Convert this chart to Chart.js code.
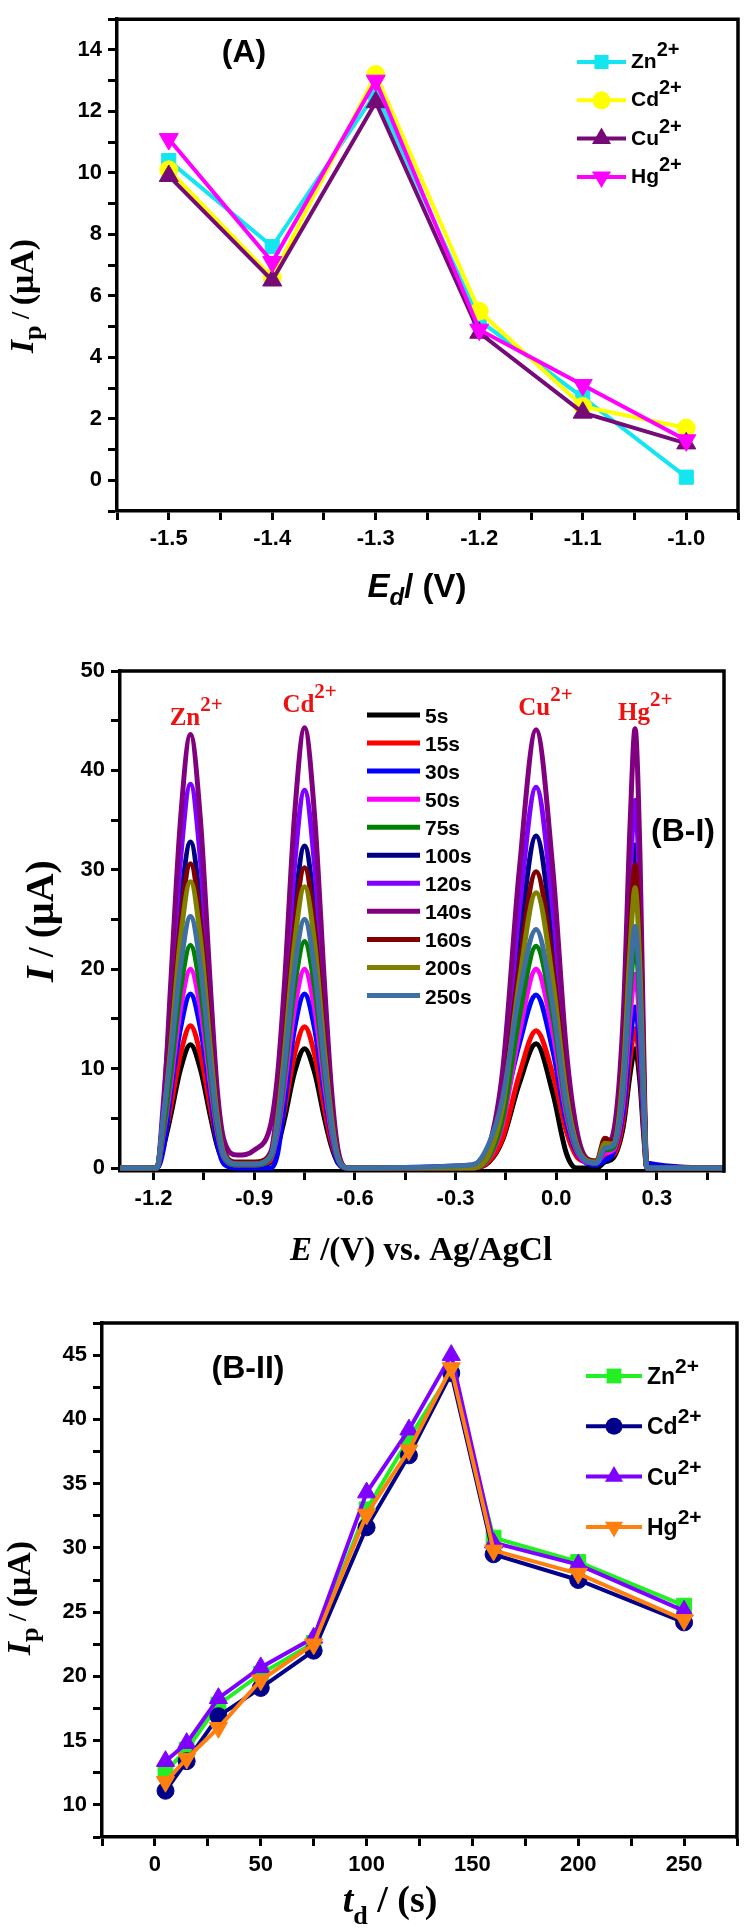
<!DOCTYPE html>
<html lang="en">
<head>
<meta charset="UTF-8">
<title>Deposition potential / time</title>
<script src="https://cdn.jsdelivr.net/npm/chart.js"></script>
<style>
  body { margin: 0; background: #fff; }
  canvas { display: block; }
</style>
</head>
<body>
<canvas id="chartA" width="750" height="650"></canvas>
<canvas id="chartB1" width="750" height="650"></canvas>
<canvas id="chartB2" width="750" height="630"></canvas>
<script>
// ---------- panel A : Ip vs deposition potential
const depPot = [-1.5, -1.4, -1.3, -1.2, -1.1, -1.0];
const ipZnA = [10.4, 7.6, 12.6, 5.2, 2.7, 0.1];
const ipCdA = [10.1, 6.6, 13.2, 5.5, 2.4, 1.7];
const ipCuA = [9.9, 6.5, 12.3, 4.8, 2.2, 1.2];
const ipHgA = [11.1, 7.1, 13.0, 4.9, 3.1, 1.3];
const ions = ['Zn', 'Cd', 'Cu', 'Hg'];

// ---------- panel B-I : stripping curves for each deposition time
const scanLabels = ['5s', '15s', '30s', '50s', '75s', '100s', '120s', '140s', '160s', '200s', '250s'];
const potE = [-1.30, -1.19, -1.17, -1.15, -1.12, -1.09, -1.06, -1.03, -1.01, -0.99, -0.95, -0.90,
  -0.85, -0.83, -0.81, -0.78, -0.75, -0.72, -0.69, -0.67, -0.65, -0.62,
  -0.25, -0.20, -0.16, -0.11, -0.06, -0.01, 0.03, 0.06, 0.09,
  0.12, 0.145, 0.17, 0.20, 0.22, 0.235, 0.25, 0.26, 0.27, 0.50];
const i5s = [0, 0, 2.2, 5.1, 9.9, 12.4, 9.9, 5.1, 2.2, 0.7, 0.2, 0.2,
  0.6, 2.2, 4.9, 9.6, 12.0, 9.6, 4.9, 2.2, 0.5, 0,
  0, 0.6, 2.8, 8.5, 12.5, 7.5, 1.5, 0, 0,
  0, 0.6, 1.0, 4.2, 9.4, 12.0, 8.4, 3.6, 0, 0];
const i15s = [0, 0, 2.6, 5.9, 11.4, 14.3, 11.4, 5.9, 2.6, 0.8, 0.3, 0.3,
  0.8, 2.6, 5.8, 11.4, 14.2, 11.4, 5.8, 2.6, 0.6, 0,
  0, 0.7, 3.0, 9.4, 13.8, 9.4, 3.7, 1.2, 0.6,
  0.4, 1.2, 1.3, 4.9, 10.9, 14.0, 9.8, 4.2, 0, 0];
const i30s = [0, 0, 2.0, 7.2, 14.0, 17.5, 14.0, 7.2, 2.5, 0.4, 0, 0,
  0, 1.5, 6.5, 14.0, 17.5, 14.0, 7.2, 3.2, 0.5, 0,
  0.3, 2.0, 5.5, 12.5, 17.4, 11.8, 4.7, 1.6, 0.5,
  0.3, 0.8, 1.5, 5.7, 12.6, 16.2, 11.3, 4.9, 0.5, 0];
const i50s = [0, 0, 3.6, 8.2, 16.0, 20.0, 16.0, 8.2, 3.6, 1.0, 0.3, 0.3,
  1.0, 3.6, 8.2, 16.0, 20.0, 16.0, 8.2, 3.6, 0.8, 0,
  0, 1.0, 4.4, 13.6, 20.0, 13.6, 5.4, 1.8, 0.6,
  0.5, 1.5, 1.8, 6.8, 15.2, 19.5, 13.7, 5.9, 0, 0];
const i75s = [0, 0, 4.0, 9.2, 17.9, 22.4, 17.9, 9.2, 4.0, 1.1, 0.3, 0.3,
  1.1, 4.1, 9.3, 18.2, 22.8, 18.2, 9.3, 4.1, 0.9, 0,
  0, 1.1, 4.9, 15.2, 22.3, 15.2, 6.0, 2.0, 0.7,
  0.5, 1.8, 2.0, 7.9, 17.6, 22.5, 15.8, 6.8, 0, 0];
const i100s = [0, 0, 5.9, 13.4, 26.2, 32.8, 26.2, 13.4, 5.9, 1.5, 0.4, 0.4,
  1.5, 5.8, 13.3, 25.9, 32.4, 25.9, 13.3, 5.8, 1.3, 0,
  0, 1.7, 7.3, 22.7, 33.4, 22.7, 9.0, 3.0, 0.8,
  0.6, 2.0, 2.6, 11.4, 25.4, 32.5, 22.8, 9.8, 0, 0];
const i120s = [0, 0, 6.9, 15.8, 30.9, 38.6, 30.9, 15.8, 6.9, 1.8, 0.4, 0.4,
  1.7, 6.8, 15.6, 30.4, 38.0, 30.4, 15.6, 6.8, 1.5, 0,
  0, 1.9, 8.4, 26.0, 38.3, 26.0, 10.3, 3.4, 0.8,
  0.6, 2.0, 3.0, 13.0, 28.9, 37.0, 25.9, 11.1, 0, 0];
const i140s = [0, 0, 6.0, 17.9, 34.9, 43.6, 34.9, 17.9, 7.8, 2.8, 1.3, 1.8,
  4.5, 9.5, 18.5, 35.4, 44.3, 35.4, 18.2, 8.0, 1.8, 0,
  0, 2.2, 9.7, 30.0, 44.1, 30.0, 11.9, 4.0, 1.0,
  0.7, 2.2, 3.5, 15.5, 34.5, 44.2, 30.9, 13.3, 0, 0];
const i160s = [0, 0, 5.5, 12.5, 24.5, 30.6, 24.5, 12.5, 5.5, 1.5, 0.6, 0.6,
  1.5, 5.4, 12.4, 24.2, 30.2, 24.2, 12.4, 5.4, 1.2, 0,
  0, 1.5, 6.6, 20.3, 29.8, 20.3, 8.0, 2.7, 0.9,
  0.7, 3.0, 2.6, 10.7, 23.8, 30.5, 21.4, 9.2, 0, 0];
const i200s = [0, 0, 5.2, 11.8, 23.0, 28.8, 23.0, 11.8, 5.2, 1.4, 0.4, 0.4,
  1.3, 5.1, 11.6, 22.6, 28.3, 22.6, 11.6, 5.1, 1.1, 0,
  0, 1.4, 6.1, 18.8, 27.7, 18.8, 7.5, 2.5, 0.8,
  0.6, 2.5, 2.4, 9.9, 22.0, 28.2, 19.7, 8.5, 0, 0];
const i250s = [0, 0, 5.5, 11.0, 20.2, 25.3, 20.2, 10.4, 4.6, 1.2, 0.4, 0.4,
  1.3, 4.5, 10.3, 20.0, 25.0, 20.0, 10.3, 4.5, 1.0, 0,
  0.3, 2.5, 7.0, 17.5, 24.0, 16.3, 6.5, 2.2, 0.7,
  0.5, 2.0, 2.3, 8.5, 19.0, 24.3, 17.0, 7.3, 0, 0];
// where the red ion names sit (left of text, baseline), in axis units
const peakLabelE = [-1.152, -0.816, -0.113, 0.184];
const peakLabelI = [44.6, 45.9, 45.6, 45.1];

// ---------- panel B-II : Ip vs deposition time
const depTime = [5, 15, 30, 50, 75, 100, 120, 140, 160, 200, 250];
const ipZnB = [12.6, 14.3, 17.8, 20.2, 22.6, 33.0, 38.5, 43.7, 30.8, 28.9, 25.5];
const ipCdB = [11.1, 13.4, 16.9, 19.1, 22.0, 31.6, 37.2, 43.6, 29.5, 27.5, 24.2];
const ipCuB = [13.4, 14.8, 18.3, 20.7, 23.0, 34.3, 39.2, 45.0, 30.4, 28.7, 25.1];
const ipHgB = [11.8, 13.6, 16.0, 19.7, 22.5, 32.6, 37.6, 44.0, 29.8, 28.0, 24.4];

// ---------- ticks
const tickAX = [-1.55, -1.5, -1.45, -1.4, -1.35, -1.3, -1.25, -1.2, -1.15, -1.1, -1.05, -1.0, -0.95];
const labAX = [-1.5, -1.4, -1.3, -1.2, -1.1, -1.0];
const txtAX = ['-1.5', '-1.4', '-1.3', '-1.2', '-1.1', '-1.0'];
const tickAY = [-1, 0, 1, 2, 3, 4, 5, 6, 7, 8, 9, 10, 11, 12, 13, 14, 15];
const labAY = [0, 2, 4, 6, 8, 10, 12, 14];
const txtAY = ['0', '2', '4', '6', '8', '10', '12', '14'];

const tickB1X = [-1.2, -1.05, -0.9, -0.75, -0.6, -0.45, -0.3, -0.15, 0, 0.15, 0.3, 0.45];
const labB1X = [-1.2, -0.9, -0.6, -0.3, 0, 0.3];
const txtB1X = ['-1.2', '-0.9', '-0.6', '-0.3', '0.0', '0.3'];
const tickB1Y = [0, 5, 10, 15, 20, 25, 30, 35, 40, 45, 50];
const labB1Y = [0, 10, 20, 30, 40, 50];
const txtB1Y = ['0', '10', '20', '30', '40', '50'];

const tickB2X = [-25, 0, 25, 50, 75, 100, 125, 150, 175, 200, 225, 250, 275];
const labB2X = [0, 50, 100, 150, 200, 250];
const txtB2X = ['0', '50', '100', '150', '200', '250'];
const tickB2Y = [7.5, 10, 12.5, 15, 17.5, 20, 22.5, 25, 27.5, 30, 32.5, 35, 37.5, 40, 42.5, 45, 47.5];
const labB2Y = [10, 15, 20, 25, 30, 35, 40, 45];
const txtB2Y = ['10', '15', '20', '25', '30', '35', '40', '45'];

const SANS = '"Liberation Sans", Arial, sans-serif';
const SERIF = '"Liberation Serif", "Times New Roman", serif';

function axis(min, max, ticks, labs, txts, fit) {
  return {
    type: 'linear', min: min, max: max,
    afterBuildTicks: s => { s.ticks = ticks.map(v => ({ value: v })); },
    afterFit: fit,
    ticks: {
      autoSkip: false, maxRotation: 0, minRotation: 0, padding: 6, color: '#000',
      font: { family: SANS, size: 22, weight: 'bold' },
      callback: v => {
        const k = labs.findIndex(l => Math.abs(l - v) < 1e-6);
        return k < 0 ? '' : txts[k];
      }
    },
    grid: { drawOnChartArea: false, drawTicks: true, tickLength: 9, tickWidth: 3, tickColor: '#000' },
    border: { display: true, color: '#000', width: 3.5 }
  };
}

function pts(xs, ys) {
  return xs.map((x, i) => ({ x: x, y: ys[i] }));
}

function marker(ctx, style, r, rot, x, y) {
  ctx.beginPath();
  if (style === 'circle') {
    ctx.arc(x, y, r, 0, Math.PI * 2);
  } else if (style === 'rect') {
    const s = r * Math.SQRT1_2;
    ctx.rect(x - s, y - s, 2 * s, 2 * s);
  } else {
    let a = rot * Math.PI / 180;
    for (let k = 0; k < 3; k++) {
      const px = x + Math.sin(a) * r, py = y - Math.cos(a) * r;
      k ? ctx.lineTo(px, py) : ctx.moveTo(px, py);
      a += Math.PI * 2 / 3;
    }
    ctx.closePath();
  }
  ctx.fill();
}

// text made of pieces with their own font and baseline shift
function rich(ctx, segs, cx, cy, angle) {
  ctx.save();
  ctx.translate(cx, cy);
  ctx.rotate(angle || 0);
  ctx.textAlign = 'left';
  ctx.textBaseline = 'alphabetic';
  let w = 0;
  segs.forEach(s => { ctx.font = s.f; w += ctx.measureText(s.t).width; });
  let x = -w / 2;
  segs.forEach(s => {
    ctx.font = s.f;
    ctx.fillStyle = s.c || '#000';
    ctx.fillText(s.t, x, s.dy || 0);
    x += ctx.measureText(s.t).width;
  });
  ctx.restore();
}

function leftText(ctx, segs, x, y) {
  ctx.save();
  ctx.textAlign = 'left';
  ctx.textBaseline = 'alphabetic';
  segs.forEach(s => {
    ctx.font = s.f;
    ctx.fillStyle = s.c || '#000';
    ctx.fillText(s.t, x, y + (s.dy || 0));
    x += ctx.measureText(s.t).width;
  });
  ctx.restore();
}

function decor(cfg) {
  return {
    id: 'decor',
    afterDraw(chart) {
      const ctx = chart.ctx, a = chart.chartArea;
      ctx.save();
      ctx.strokeStyle = '#000';
      ctx.lineWidth = 3.5;
      ctx.beginPath();
      ctx.moveTo(a.left - 1.75, a.top);
      ctx.lineTo(a.right, a.top);
      ctx.lineTo(a.right, a.bottom + 1.75);
      ctx.stroke();
      ctx.restore();
      cfg.titles.forEach(t => rich(ctx, t.segs, t.x, t.y, t.angle));
      if (cfg.legend) {
        const L = cfg.legend;
        chart.data.datasets.forEach((ds, i) => {
          const y = L.y0 + L.dy * i;
          ctx.save();
          ctx.strokeStyle = ds.borderColor;
          ctx.fillStyle = ds.borderColor;
          ctx.lineWidth = L.lw;
          ctx.beginPath();
          ctx.moveTo(L.x0, y);
          ctx.lineTo(L.x1, y);
          ctx.stroke();
          if (ds.pointRadius) marker(ctx, ds.pointStyle, ds.pointRadius, ds.pointRotation || 0, (L.x0 + L.x1) / 2, y);
          ctx.restore();
          const segs = [{ t: ds.label, f: 'bold ' + L.fs + 'px ' + SANS }];
          if (L.sup) segs.push({ t: '2+', f: 'bold ' + L.sfs + 'px ' + SANS, dy: L.sup });
          leftText(ctx, segs, L.x1 + 5, y + L.base);
        });
      }
      if (cfg.peaks) {
        const xs = chart.scales.x, ys = chart.scales.y;
        ions.forEach((ion, k) => {
          leftText(ctx, [
            { t: ion, f: 'bold 25px ' + SERIF, c: '#ee1111' },
            { t: '2+', f: 'bold 21px ' + SERIF, c: '#ee1111', dy: -14 }
          ], xs.getPixelForValue(peakLabelE[k]), ys.getPixelForValue(peakLabelI[k]));
        });
      }
    }
  };
}

function baseOptions(pad) {
  return {
    responsive: false,
    animation: false,
    layout: { padding: { top: pad.top, right: pad.right, left: 0, bottom: 0 } },
    plugins: { legend: { display: false }, tooltip: { enabled: false } },
    elements: { line: { fill: false } }
  };
}

// ---------- chart A
function lineSet(label, xs, ys, color, style, r, rot, order) {
  return {
    label: label, data: pts(xs, ys), borderColor: color, backgroundColor: color,
    borderWidth: 4, pointStyle: style, pointRadius: r, pointRotation: rot,
    pointBorderWidth: 1, pointBorderColor: color, pointBackgroundColor: color,
    tension: 0, order: order
  };
}

const optA = baseOptions({ top: 6, right: 7 });
optA.scales = {
  x: axis(-1.55, -0.95, tickAX, labAX, txtAX, s => { s.height = 650 - 511; }),
  y: axis(-1, 15, tickAY, labAY, txtAY, s => { s.width = 117; })
};
new Chart(document.getElementById('chartA'), {
  type: 'line',
  data: {
    datasets: [
      lineSet(ions[0], depPot, ipZnA, '#14e6f0', 'rect', 10, 0, 4),
      lineSet(ions[1], depPot, ipCdA, '#ffff00', 'circle', 9, 0, 3),
      lineSet(ions[2], depPot, ipCuA, '#760a76', 'triangle', 11, 0, 2),
      lineSet(ions[3], depPot, ipHgA, '#ff00ff', 'triangle', 11, 180, 1)
    ]
  },
  options: optA,
  plugins: [decor({
    titles: [
      { x: 417, y: 597, segs: [
        { t: 'E', f: 'italic bold 33px ' + SANS },
        { t: 'd', f: 'italic bold 24px ' + SANS, dy: 8 },
        { t: '/ (V)', f: 'bold 33px ' + SANS }] },
      { x: 33, y: 296, angle: -Math.PI / 2, segs: [
        { t: 'I', f: 'italic bold 34px ' + SERIF },
        { t: 'p', f: 'bold 26px ' + SERIF, dy: 8 },
        { t: ' / ', f: 'bold 26px ' + SERIF, dy: -4 },
        { t: '(μA)', f: 'bold 34px ' + SERIF }] },
      { x: 244, y: 62, segs: [{ t: '(A)', f: 'bold 32px ' + SANS }] }
    ],
    legend: { x0: 577, x1: 626, y0: 62, dy: 38.3, lw: 4, fs: 21, sfs: 20, base: 6, sup: -12 }
  })]
});

// ---------- chart B-I
const scanColors = ['#000000', '#ff0000', '#0000ff', '#ff00ff', '#008000', '#000080',
  '#8000ff', '#800080', '#800000', '#808000', '#3d6fa3'];
const scans = [i5s, i15s, i30s, i50s, i75s, i100s, i120s, i140s, i160s, i200s, i250s];

const optB1 = baseOptions({ top: 21, right: 26 });
optB1.scales = {
  x: axis(-1.3, 0.5, tickB1X, labB1X, txtB1X, s => { s.height = 650 - 521; }),
  y: axis(-0.3, 50, tickB1Y, labB1Y, txtB1Y, s => { s.width = 120; })
};
new Chart(document.getElementById('chartB1'), {
  type: 'line',
  data: {
    datasets: scans.map((arr, i) => ({
      label: scanLabels[i], data: pts(potE, arr),
      borderColor: scanColors[i], backgroundColor: scanColors[i],
      borderWidth: 5, pointRadius: 0, cubicInterpolationMode: 'monotone',
      order: scans.length - i
    }))
  },
  options: optB1,
  plugins: [decor({
    titles: [
      { x: 421, y: 610, segs: [
        { t: 'E', f: 'italic bold 33px ' + SERIF },
        { t: ' /(V) vs. Ag/AgCl', f: 'bold 33px ' + SERIF }] },
      { x: 53, y: 271, angle: -Math.PI / 2, segs: [
        { t: 'I', f: 'italic bold 40px ' + SERIF },
        { t: ' / ', f: 'bold 36px ' + SERIF },
        { t: '(μA)', f: 'bold 40px ' + SERIF }] },
      { x: 683, y: 191, segs: [{ t: '(B-I)', f: 'bold 32px ' + SANS }] }
    ],
    legend: { x0: 367, x1: 420, y0: 65, dy: 28.05, lw: 5, fs: 21, base: 8 },
    peaks: true
  })]
});

// ---------- chart B-II
const optB2 = baseOptions({ top: 23, right: 13 });
optB2.scales = {
  x: axis(-25, 275, tickB2X, labB2X, txtB2X, s => { s.height = 630 - 537; }),
  y: axis(7.5, 47.5, tickB2Y, labB2Y, txtB2Y, s => { s.width = 102; })
};
new Chart(document.getElementById('chartB2'), {
  type: 'line',
  data: {
    datasets: [
      lineSet(ions[0], depTime, ipZnB, '#22f022', 'rect', 10.5, 0, 4),
      lineSet(ions[1], depTime, ipCdB, '#00008b', 'circle', 8.5, 0, 3),
      lineSet(ions[2], depTime, ipCuB, '#7f00ff', 'triangle', 10.5, 0, 2),
      lineSet(ions[3], depTime, ipHgB, '#ff7f0f', 'triangle', 10.5, 180, 1)
    ]
  },
  options: optB2,
  plugins: [decor({
    titles: [
      { x: 390, y: 612, segs: [
        { t: 't', f: 'italic bold 38px ' + SERIF },
        { t: 'd', f: 'bold 26px ' + SERIF, dy: 12 },
        { t: ' / (s)', f: 'bold 38px ' + SERIF }] },
      { x: 30, y: 298, angle: -Math.PI / 2, segs: [
        { t: 'I', f: 'italic bold 34px ' + SERIF },
        { t: 'p', f: 'bold 26px ' + SERIF, dy: 8 },
        { t: ' / ', f: 'bold 26px ' + SERIF, dy: -4 },
        { t: '(μA)', f: 'bold 34px ' + SERIF }] },
      { x: 248, y: 78, segs: [{ t: '(B-II)', f: 'bold 32px ' + SANS }] }
    ],
    legend: { x0: 586, x1: 642, y0: 76, dy: 50.3, lw: 4, fs: 23, sfs: 21, base: 8, sup: -11 }
  })]
});
</script>
</body>
</html>
